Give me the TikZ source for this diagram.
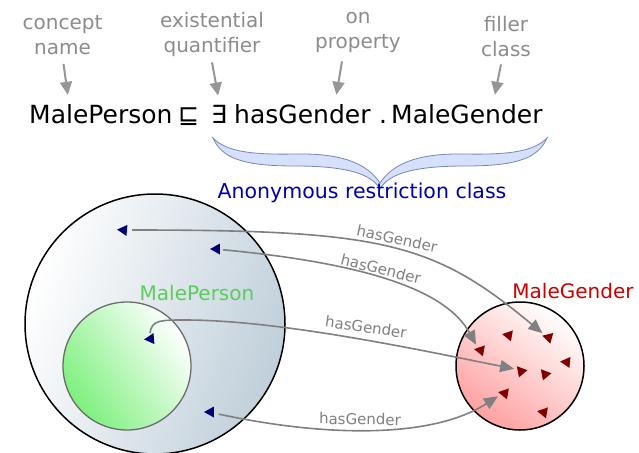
\documentclass[tikz,border=0pt]{standalone}
\usepackage{fontspec}
\setmainfont{DejaVu Sans}
\usetikzlibrary{arrows.meta,calc}

\definecolor{lblgray}{RGB}{140,140,140}
\definecolor{arrgray}{RGB}{150,150,150}
\definecolor{relgray}{RGB}{128,128,128}
\definecolor{anonblue}{RGB}{0,0,175}
\definecolor{anonfill}{RGB}{192,207,218}
\definecolor{pgreen}{RGB}{90,205,90}
\definecolor{greenfill}{RGB}{125,240,125}
\definecolor{mgred}{RGB}{205,0,0}
\definecolor{redfill}{RGB}{255,160,160}
\definecolor{bracefill}{RGB}{214,224,250}
\definecolor{bracedraw}{RGB}{115,135,185}
\definecolor{indblue}{RGB}{0,0,120}
\definecolor{indred}{RGB}{128,0,0}

\begin{document}
\begin{tikzpicture}[x=1pt,y=-1pt,
    lbl/.style={text=lblgray,align=center,inner sep=0pt,font=\fontsize{20}{25}\selectfont},
    lblarrow/.style={draw=arrgray,line width=2pt,-{Triangle[length=13pt,width=12pt]}},
    formula/.style={inner sep=0pt,anchor=base west,font=\fontsize{25}{30}\selectfont},
    classname/.style={inner sep=0pt,anchor=base,font=\fontsize{20}{24}\selectfont},
    rel/.style={draw=relgray,line width=1.6pt,-{Triangle[length=14pt,width=12pt]},shorten >=6pt},
    rellbl/.style={text=relgray,inner sep=0pt,font=\fontsize{15}{18}\selectfont},
    indiv/.pic={\fill[pic actions] (-4.5,0) -- (4.5,-5) -- (4.5,5) -- cycle;}]
    \useasboundingbox (0,0) rectangle (639,452);

    % the axiom and what its parts are
    \node[formula] (fmp) at (29,123) {MalePerson};
    \node[formula] (fsub) at (178,123) {⊑};
    \node[formula] (fex) at (211,123) {∃};
    \node[formula] (fhas) at (234,123) {hasGender};
    \node[formula] (fdot) at (379,123) {.};
    \node[formula] (fmg) at (391,123) {MaleGender};

    \node[lbl] (lconcept) at (62.5,35) {concept\\name};
    \node[lbl] (lexist) at (212,34) {existential\\quantifier};
    \node[lbl] (lprop) at (358,32) {on\\property};
    \node[lbl] (lfiller) at (506,37) {filler\\class};

    \draw[lblarrow] ([xshift=1pt,yshift=-9pt]lconcept.south) -- ([xshift=-33pt,yshift=9pt]fmp.north);
    \draw[lblarrow] ([yshift=-6pt]lexist.south) -- ([xshift=-1pt,yshift=9pt]fex.north);
    \draw[lblarrow] ([xshift=-16pt,yshift=-9pt]lprop.south) -- ([xshift=34pt,yshift=9pt]fhas.north);
    \draw[lblarrow] ([xshift=-5pt,yshift=-7pt]lfiller.south) -- ([xshift=28pt,yshift=9pt]fmg.north);

    % brace under the restriction
    \draw[fill=bracefill,draw=bracedraw,line width=0.8pt]
      (213,138) .. controls (225,150) and (245,155) .. (295,154)
      .. controls (345,153) and (368,165) .. (380,183)
      .. controls (392,165) and (415,153) .. (465,154)
      .. controls (515,155) and (535,150) .. (547,138)
      .. controls (538,158) and (518,166) .. (465,166)
      .. controls (410,166) and (388,175) .. (380,189)
      .. controls (372,175) and (350,166) .. (295,166)
      .. controls (242,166) and (222,158) .. (213,138) -- cycle;
    \node[classname,text=anonblue,font=\fontsize{20.5}{24}\selectfont] (lanon) at (362,198) {Anonymous restriction class};

    % the classes
    \draw[line width=1.5pt,left color=white,right color=anonfill,shading angle=70] (155,324) circle[radius=130pt];
    \draw[line width=1.3pt,draw=gray!85!black,left color=greenfill,right color=white,shading angle=125] (127,366) circle[radius=64pt];
    \draw[line width=1.5pt,left color=redfill,right color=white,shading angle=145] (520,366) circle[radius=64pt];
    \node[classname,text=pgreen] (lmp) at (197,300) {MalePerson};
    \node[classname,text=mgred] (lmg) at (573,298) {MaleGender};

    % individuals
    \coordinate (b1) at (122,230);
    \coordinate (b2) at (215,249);
    \coordinate (b3) at (149,339);
    \coordinate (b4) at (209,412);
    \coordinate (r1) at (547,337);
    \coordinate (r2) at (479,350);
    \coordinate (r3) at (520,370);
    \coordinate (r4) at (503,393);
    \coordinate (r5) at (507,335);
    \coordinate (r6) at (565,362);
    \coordinate (r7) at (544,373);
    \coordinate (r8) at (542,412);
    \foreach \b/\a in {b1/-5,b2/0,b3/5,b4/0}
      \pic[fill=indblue,rotate=\a,scale=1.1] at (\b) {indiv};
    \foreach \r/\a in {r1/-15,r2/-10,r3/-50,r4/-10,r5/-10,r6/-5,r7/-50,r8/-10}
      \pic[fill=indred,rotate=\a,scale=1.1] at (\r) {indiv};

    % hasGender links
    \draw[rel,shorten <=10pt] (b1) .. controls (382,230) and (433,242) .. (r1);
    \draw[rel,shorten <=8pt] (b2) .. controls (373,264) and (447,292) .. (r2);
    \draw[rel,shorten <=6pt] (b3) .. controls (152,320) and (160,320) .. (185,320)
      .. controls (280,320) and (420,350) .. (r3);
    \draw[rel,shorten <=10pt] (b4) .. controls (320,436) and (430,440) .. (r4);
    \node[rellbl,rotate=-12] (h1) at (397,239) {hasGender};
    \node[rellbl,rotate=-14] (h2) at (381,269) {hasGender};
    \node[rellbl,rotate=-8] (h3) at (366,327) {hasGender};
    \node[rellbl,rotate=-1] (h4) at (360,419) {hasGender};
\end{tikzpicture}
\end{document}
